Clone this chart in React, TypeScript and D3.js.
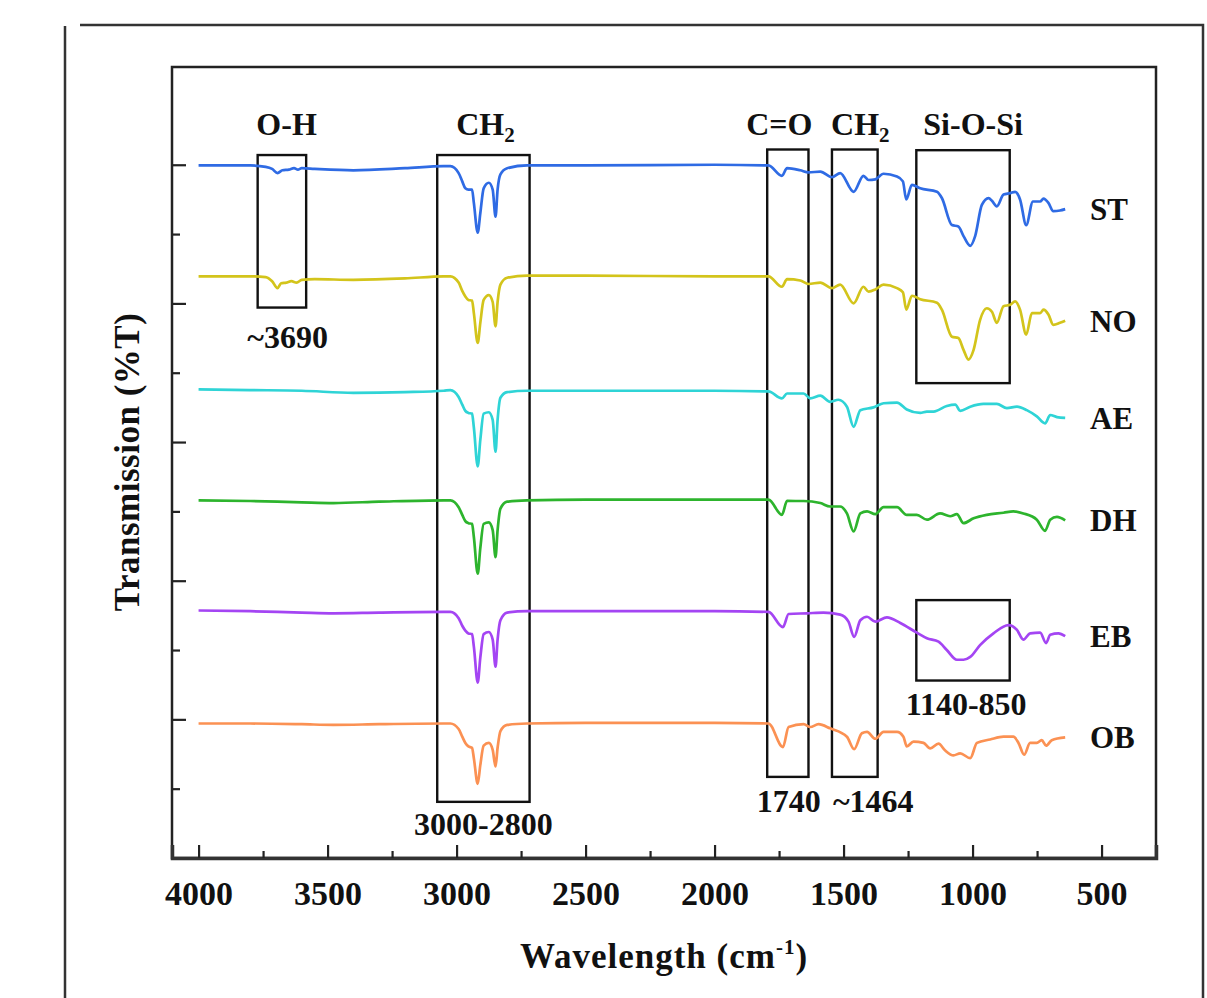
import React, { useEffect, useRef } from 'react';
import * as d3 from 'd3';

type Pt = [number, number];

// FTIR spectra, [wavenumber (cm-1), transmission (offset, a.u.)]
const stData: Pt[] = [
  [4000, 99.9], [3900, 99.9], [3800, 99.9], [3740, 99.7], [3715, 99.4], [3694, 98.8], [3675, 99.2],
  [3650, 99.3], [3630, 99.5], [3615, 99.3], [3600, 99.5], [3550, 99.4], [3400, 99.2], [3200, 99.5],
  [3050, 99.8], [3024, 99.8], [2992, 98.8], [2978, 97.6], [2966, 96.6], [2954, 96.4], [2940, 96.4],
  [2933, 94.5], [2918, 90.2], [2908, 93.0], [2895, 96.6], [2875, 97.4], [2860, 96.4], [2849, 92.5],
  [2841, 96.4], [2830, 98.6], [2804, 99.5], [2727, 99.9], [2500, 99.9], [2000, 100.0], [1791, 99.9],
  [1739, 98.4], [1719, 99.5], [1668, 99.2], [1636, 98.9], [1590, 99.0], [1545, 98.2], [1513, 98.8],
  [1461, 96.1], [1423, 98.4], [1403, 97.8], [1377, 97.9], [1345, 98.7], [1293, 98.3], [1270, 97.6],
  [1257, 95.0], [1235, 97.1], [1203, 96.6], [1138, 96.1], [1119, 95.2], [1080, 91.3], [1055, 91.1],
  [1035, 89.7], [1009, 88.3], [990, 89.7], [964, 94.2], [938, 95.2], [925, 94.8], [906, 94.0],
  [880, 95.7], [854, 95.9], [835, 96.1], [816, 95.0], [792, 91.3], [766, 94.7], [738, 94.7],
  [725, 95.1], [706, 94.5], [687, 93.3], [661, 93.4], [641, 93.6],
];

const noData: Pt[] = [
  [4000, 83.9], [3900, 83.9], [3800, 83.9], [3740, 83.8], [3715, 83.2], [3694, 82.2], [3680, 82.9],
  [3660, 83.0], [3640, 83.2], [3620, 83.0], [3600, 83.4], [3550, 83.5], [3400, 83.4], [3200, 83.6],
  [3050, 83.9], [3024, 83.9], [2992, 83.0], [2978, 81.8], [2966, 81.0], [2954, 80.5], [2940, 80.4],
  [2933, 78.6], [2918, 74.3], [2908, 77.2], [2895, 80.5], [2875, 81.2], [2860, 80.2], [2849, 76.7],
  [2841, 80.2], [2830, 82.7], [2804, 83.7], [2727, 84.0], [2500, 84.0], [2000, 83.9], [1791, 83.9],
  [1739, 82.4], [1719, 83.5], [1668, 83.3], [1636, 82.8], [1590, 83.0], [1545, 82.2], [1513, 82.7],
  [1461, 80.0], [1423, 82.4], [1403, 81.7], [1377, 82.0], [1345, 82.7], [1293, 82.2], [1270, 81.6],
  [1257, 79.1], [1235, 81.1], [1203, 80.6], [1138, 80.1], [1119, 79.1], [1080, 75.2], [1055, 75.0],
  [1035, 73.3], [1016, 71.9], [996, 73.3], [971, 77.6], [945, 79.3], [925, 78.8], [906, 77.2],
  [880, 79.6], [854, 79.8], [835, 80.3], [816, 79.1], [792, 75.5], [770, 78.6], [738, 78.6],
  [725, 79.1], [706, 78.4], [687, 76.9], [661, 77.2], [641, 77.5],
];

const aeData: Pt[] = [
  [4000, 67.6], [3800, 67.5], [3600, 67.4], [3400, 67.1], [3200, 67.2], [3050, 67.4],
  [3024, 67.5], [2992, 66.5], [2978, 65.4], [2966, 64.5], [2954, 64.2], [2940, 64.1], [2933, 62.1],
  [2918, 56.5], [2908, 60.3], [2895, 64.1], [2875, 64.3], [2860, 63.2], [2849, 58.6], [2841, 63.2],
  [2830, 66.4], [2804, 67.2], [2727, 67.4], [2500, 67.4], [2000, 67.4], [1791, 67.3], [1739, 66.3],
  [1719, 67.0], [1655, 67.0], [1629, 66.3], [1590, 66.7], [1552, 65.8], [1520, 66.1], [1487, 65.1],
  [1461, 62.2], [1435, 64.6], [1384, 65.0], [1345, 65.6], [1293, 65.7], [1255, 64.7], [1203, 64.2],
  [1177, 64.4], [1151, 64.4], [1100, 65.2], [1067, 65.4], [1048, 64.5], [1009, 65.1], [958, 65.5],
  [906, 65.5], [867, 64.9], [828, 65.1], [790, 64.6], [751, 63.7], [719, 62.7], [699, 63.9],
  [673, 63.6], [641, 63.5],
];

const dhData: Pt[] = [
  [4000, 51.6], [3800, 51.5], [3600, 51.3], [3477, 51.2], [3300, 51.4], [3050, 51.6],
  [3024, 51.6], [2992, 50.6], [2978, 49.5], [2966, 48.6], [2954, 48.3], [2940, 48.2], [2933, 46.3],
  [2918, 41.0], [2908, 44.7], [2895, 48.2], [2875, 48.4], [2860, 47.3], [2849, 43.4], [2841, 47.3],
  [2830, 50.4], [2804, 51.4], [2727, 51.6], [2500, 51.7], [2000, 51.7], [1791, 51.7], [1739, 49.5],
  [1719, 51.5], [1655, 51.5], [1590, 51.2], [1552, 50.7], [1513, 50.7], [1487, 49.7], [1461, 47.1],
  [1435, 49.7], [1409, 50.0], [1377, 49.6], [1345, 50.6], [1293, 50.6], [1255, 49.5], [1216, 49.5],
  [1177, 48.8], [1126, 49.7], [1087, 49.3], [1061, 49.6], [1035, 48.3], [996, 49.0], [945, 49.5],
  [880, 49.8], [842, 50.0], [803, 49.7], [751, 48.8], [719, 47.2], [699, 48.8], [673, 49.2],
  [641, 48.7],
];

const ebData: Pt[] = [
  [4000, 35.7], [3800, 35.6], [3600, 35.4], [3477, 35.3], [3300, 35.4], [3050, 35.5],
  [3024, 35.5], [2992, 34.6], [2978, 33.5], [2966, 32.8], [2954, 32.4], [2940, 32.3], [2933, 30.5],
  [2918, 25.3], [2908, 28.9], [2895, 32.3], [2875, 32.6], [2860, 31.5], [2849, 27.6], [2841, 31.5],
  [2830, 34.3], [2804, 35.4], [2727, 35.6], [2500, 35.6], [2000, 35.6], [1791, 35.5], [1735, 33.3],
  [1713, 35.2], [1642, 35.3], [1578, 35.4], [1513, 35.1], [1481, 34.1], [1459, 31.9], [1435, 34.3],
  [1409, 34.8], [1377, 34.1], [1332, 34.7], [1280, 33.9], [1216, 32.5], [1177, 31.7], [1132, 31.2],
  [1100, 30.0], [1061, 28.6], [1035, 28.6], [1009, 29.0], [971, 30.7], [919, 32.4], [861, 33.6],
  [828, 32.9], [803, 31.5], [777, 32.4], [738, 32.5], [715, 31.0], [699, 32.2], [667, 32.4],
  [641, 32.0],
];

const obData: Pt[] = [
  [4000, 19.4], [3800, 19.4], [3600, 19.3], [3477, 19.2], [3300, 19.3], [3050, 19.4],
  [3024, 19.4], [2992, 18.6], [2978, 17.5], [2966, 16.6], [2954, 16.1], [2940, 15.9], [2933, 14.4],
  [2918, 10.7], [2908, 13.4], [2895, 16.2], [2875, 16.6], [2860, 15.6], [2849, 13.2], [2841, 15.9],
  [2830, 18.3], [2804, 19.2], [2727, 19.4], [2500, 19.5], [2000, 19.5], [1791, 19.4], [1735, 16.0],
  [1713, 18.9], [1655, 19.3], [1629, 18.9], [1597, 19.3], [1552, 18.7], [1487, 17.5], [1459, 15.7],
  [1429, 18.0], [1409, 18.2], [1377, 17.2], [1345, 18.2], [1293, 18.2], [1268, 17.5], [1255, 16.1],
  [1229, 16.8], [1190, 16.6], [1164, 15.8], [1132, 16.5], [1106, 15.5], [1074, 14.8], [1048, 15.1],
  [1009, 14.4], [983, 16.6], [932, 17.1], [880, 17.5], [842, 17.5], [822, 16.6], [800, 14.9],
  [777, 16.6], [751, 16.6], [732, 17.0], [715, 16.2], [693, 17.0], [641, 17.4],
];

const seriesNames = ['ST', 'NO', 'AE', 'DH', 'EB', 'OB'];
const seriesColors = ['#2f6be4', '#d3c41b', '#2fd4d6', '#2db42d', '#a445f3', '#fb9153'];
const seriesData = [stData, noData, aeData, dhData, ebData, obData];

const xMajorTicks = [4000, 3500, 3000, 2500, 2000, 1500, 1000, 500];
const xMinorTicks = [3750, 3250, 2750, 2250, 1750, 1250, 750];
const yMajorTicks = [20, 40, 60, 80, 100];
const yMinorTicks = [10, 30, 50, 70, 90];

// highlighted band regions: wavenumber range and transmission range
const boxes = [
  { from: 3771, to: 3583, top: 101.4, bottom: 79.4 },
  { from: 3075, to: 2717, top: 101.4, bottom: 8.1 },
  { from: 1796, to: 1636, top: 102.2, bottom: 11.7 },
  { from: 1545, to: 1368, top: 102.2, bottom: 11.7 },
  { from: 1218, to: 856, top: 102.1, bottom: 68.5 },
  { from: 1218, to: 856, top: 37.2, bottom: 25.6 },
];

const bandLabels = [
  { text: 'O-H', sub: '', wn: 3659, t: 104.3 },
  { text: 'CH', sub: '2', wn: 2888, t: 104.3 },
  { text: 'C=O', sub: '', wn: 1749, t: 104.3 },
  { text: 'CH', sub: '2', wn: 1435, t: 104.3 },
  { text: 'Si-O-Si', sub: '', wn: 998, t: 104.3 },
  { text: '~3690', sub: '', wn: 3655, t: 73.6 },
  { text: '3000-2800', sub: '', wn: 2896, t: 3.3 },
  { text: '1740', sub: '', wn: 1712, t: 6.6 },
  { text: '~1464', sub: '', wn: 1385, t: 6.6 },
  { text: '1140-850', sub: '', wn: 1025, t: 20.6 },
];

const FONT = "'Liberation Serif', 'Times New Roman', serif";

const App = () => {
  const svgRef = useRef<SVGSVGElement>(null);

  useEffect(() => {
    const svg = d3.select(svgRef.current);
    svg.selectAll('*').remove();

    const margin = { top: 67, right: 51, bottom: 140, left: 172 };
    const width = 1207;
    const height = 998;

    const x = d3.scaleLinear()
      .domain([4103, 289])
      .range([margin.left, width - margin.right]);

    const y = d3.scaleLinear()
      .domain([0, 114.1])
      .range([height - margin.bottom, margin.top]);

    // outer frame
    svg.append('path')
      .attr('d', 'M65,998 L65,26 M80,25 L1203,25 L1203,998')
      .attr('fill', 'none')
      .attr('stroke', '#333')
      .attr('stroke-width', 2.5);

    // boxes
    svg.append('g')
      .selectAll('rect')
      .data(boxes)
      .enter()
      .append('rect')
      .attr('x', d => x(d.from))
      .attr('y', d => y(d.top))
      .attr('width', d => x(d.to) - x(d.from))
      .attr('height', d => y(d.bottom) - y(d.top))
      .attr('fill', 'none')
      .attr('stroke', '#111')
      .attr('stroke-width', 2.4);

    // spectra
    const line = d3.line<Pt>()
      .x(d => x(d[0]))
      .y(d => y(d[1]))
      .curve(d3.curveMonotoneX);

    svg.append('g')
      .selectAll('path')
      .data(seriesData)
      .enter()
      .append('path')
      .attr('d', d => line(d))
      .attr('fill', 'none')
      .attr('stroke', (d, i) => seriesColors[i])
      .attr('stroke-width', 2.7)
      .attr('stroke-linejoin', 'round');

    // series names at the right end
    svg.append('g')
      .selectAll('text')
      .data(seriesData)
      .enter()
      .append('text')
      .attr('x', 1090)
      .attr('y', d => y(d[d.length - 1][1]) + 11)
      .attr('font-family', FONT)
      .attr('font-weight', 'bold')
      .attr('font-size', 31)
      .attr('fill', '#111')
      .text((d, i) => seriesNames[i]);

    // band labels
    const lbl = svg.append('g')
      .selectAll('text')
      .data(bandLabels)
      .enter()
      .append('text')
      .attr('x', d => x(d.wn))
      .attr('y', d => y(d.t))
      .attr('text-anchor', 'middle')
      .attr('font-family', FONT)
      .attr('font-weight', 'bold')
      .attr('font-size', 32)
      .attr('fill', '#111');
    lbl.append('tspan').text(d => d.text);
    lbl.filter(d => d.sub !== '')
      .append('tspan')
      .attr('font-size', 21)
      .attr('dy', 7)
      .text(d => d.sub);

    // frame
    svg.append('rect')
      .attr('x', margin.left)
      .attr('y', margin.top)
      .attr('width', width - margin.right - margin.left)
      .attr('height', height - margin.bottom - margin.top)
      .attr('fill', 'none')
      .attr('stroke', '#222')
      .attr('stroke-width', 2.5);

    // X axis
    const xAxis = svg.append('g')
      .attr('transform', `translate(0, ${height - margin.bottom})`)
      .call(d3.axisBottom(x).tickValues(xMajorTicks).tickSize(-13).tickFormat(d3.format('d')));
    xAxis.select('.domain').attr('stroke', '#333').attr('stroke-width', 3.5);
    xAxis.selectAll('line').attr('stroke', '#222').attr('stroke-width', 2.2);
    xAxis.selectAll('text')
      .attr('y', 47)
      .attr('dy', 0)
      .attr('font-family', FONT)
      .attr('font-weight', 'bold')
      .attr('font-size', 34)
      .attr('fill', '#111');

    const xMinor = svg.append('g')
      .attr('transform', `translate(0, ${height - margin.bottom})`)
      .call(d3.axisBottom(x).tickValues(xMinorTicks).tickSize(-7).tickFormat(() => ''));
    xMinor.select('.domain').remove();
    xMinor.selectAll('line').attr('stroke', '#222').attr('stroke-width', 2.2);

    // Y axis (no labels)
    const yAxis = svg.append('g')
      .attr('transform', `translate(${margin.left}, 0)`)
      .call(d3.axisLeft(y).tickValues(yMajorTicks).tickSize(-14).tickFormat(() => ''));
    yAxis.select('.domain').remove();
    yAxis.selectAll('line').attr('stroke', '#222').attr('stroke-width', 2.2);

    const yMinor = svg.append('g')
      .attr('transform', `translate(${margin.left}, 0)`)
      .call(d3.axisLeft(y).tickValues(yMinorTicks).tickSize(-8).tickFormat(() => ''));
    yMinor.select('.domain').remove();
    yMinor.selectAll('line').attr('stroke', '#222').attr('stroke-width', 2.2);

    // X axis label
    const xl = svg.append('text')
      .attr('text-anchor', 'middle')
      .attr('x', 664)
      .attr('y', 968)
      .attr('font-family', FONT)
      .attr('font-weight', 'bold')
      .attr('font-size', 35)
      .attr('letter-spacing', 1)
      .attr('fill', '#111');
    xl.append('tspan').text('Wavelength (cm');
    xl.append('tspan').attr('font-size', 21).attr('dy', -14).text('-1');
    xl.append('tspan').attr('dy', 14).text(')');

    // Y axis label
    svg.append('text')
      .attr('text-anchor', 'middle')
      .attr('transform', `translate(139, 462) rotate(-90)`)
      .attr('font-family', FONT)
      .attr('font-weight', 'bold')
      .attr('font-size', 35)
      .attr('letter-spacing', 0.5)
      .attr('fill', '#111')
      .text('Transmission (%T)');
  }, []);

  return (
    <svg
      ref={svgRef}
      width={1207}
      height={998}
      style={{ position: 'absolute', left: 0, top: 0, display: 'block', background: '#fff' }}
    />
  );
};

export default App;
